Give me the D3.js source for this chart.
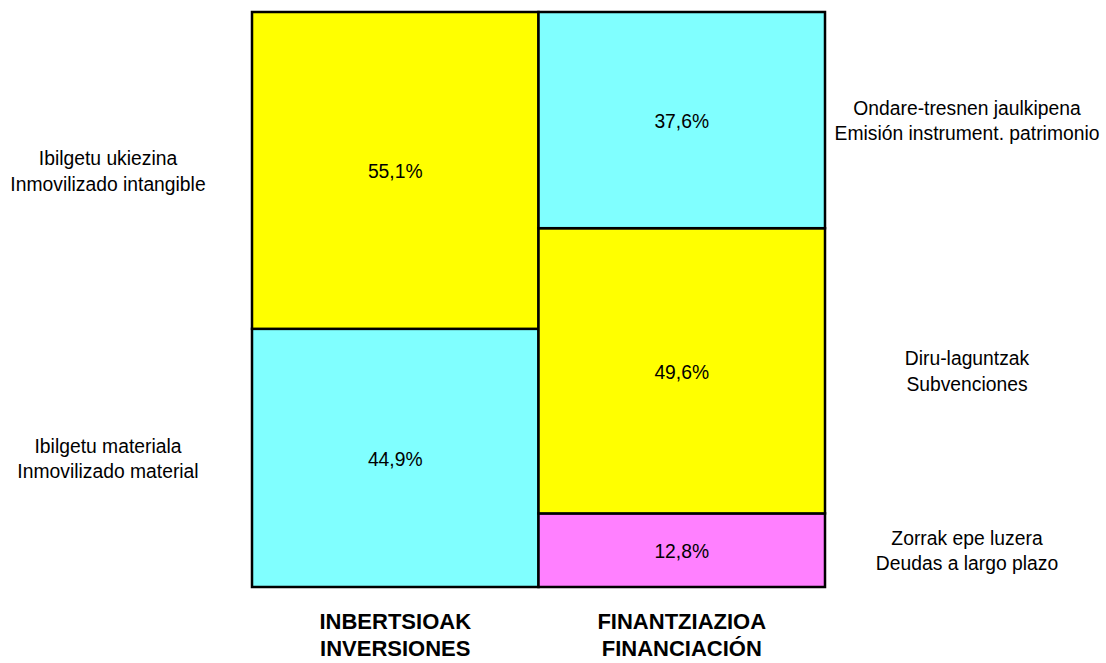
<!DOCTYPE html>
<html>
<head>
<meta charset="utf-8">
<script src="https://cdn.jsdelivr.net/npm/d3@7"></script>
<style>
  html, body { margin: 0; padding: 0; background: #fff; }
  svg { display: block; }
  text { font-family: Arial, "Liberation Sans", Helvetica, sans-serif; }
</style>
</head>
<body>
<svg id="chart" width="1106" height="663"></svg>
<script>
// ---- data ----
const categories = ["INBERTSIOAK|INVERSIONES", "FINANTZIAZIOA|FINANCIACIÓN"];
// segments listed bottom to top for each column
const inversionesLabels = ["Ibilgetu materiala|Inmovilizado material", "Ibilgetu ukiezina|Inmovilizado intangible"];
const inversionesValues = [44.9, 55.1];
const financiacionLabels = ["Zorrak epe luzera|Deudas a largo plazo", "Diru-laguntzak|Subvenciones", "Ondare-tresnen jaulkipena|Emisión instrument. patrimonio"];
const financiacionValues = [12.8, 49.6, 37.6];
const inversionesColors = ["#80FFFF", "#FFFF00"];
const financiacionColors = ["#FF80FF", "#FFFF00", "#80FFFF"];

// ---- build ----
const columns = [
  { cat: categories[0], labels: inversionesLabels, values: inversionesValues, colors: inversionesColors, side: "left" },
  { cat: categories[1], labels: financiacionLabels, values: financiacionValues, colors: financiacionColors, side: "right" }
];

const svg = d3.select("#chart");
const x = d3.scaleBand().domain(categories).range([252, 825]).padding(0);
const y = d3.scaleLinear().domain([0, 100]).range([587, 12]);

const fmt = v => d3.format(".1f")(v).replace(".", ",") + "%";
const SX = 0.92;

columns.forEach(col => {
  let cum = 0;
  col.segs = [];
  col.values.forEach((v, i) => {
    const y0 = cum, y1 = cum + v;
    cum = y1;
    col.segs.push({ y0, y1, v, label: col.labels[i], color: col.colors[i] });
  });
});

const g = svg.append("g");

columns.forEach(col => {
  const x0 = x(col.cat), w = x.bandwidth();
  col.segs.forEach(s => {
    g.append("rect")
      .attr("x", x0)
      .attr("y", y(s.y1))
      .attr("width", w)
      .attr("height", y(s.y0) - y(s.y1))
      .attr("fill", s.color)
      .attr("stroke", "#000")
      .attr("stroke-width", 2.5);
    const cy = (y(s.y0) + y(s.y1)) / 2;
    g.append("text")
      .attr("transform", `translate(${x0 + w / 2},${cy + 0.5}) scale(${SX},1)`)
      .attr("dy", "0.35em")
      .attr("text-anchor", "middle")
      .attr("font-size", 21)
      .attr("fill", "#000")
      .text(fmt(s.v));
    // side label
    const lx = col.side === "left" ? 108 : 967;
    const lines = s.label.split("|");
    const t = g.append("text")
      .attr("transform", `translate(${lx},${cy}) scale(${SX},1)`)
      .attr("text-anchor", "middle")
      .attr("font-size", 21)
      .attr("fill", "#000");
    lines.forEach((ln, k) => {
      t.append("tspan")
        .attr("x", 0)
        .attr("y", (k - (lines.length - 1) / 2) * 25.5)
        .attr("dy", "0.35em")
        .text(ln);
    });
  });
  // category label
  const lines = col.cat.split("|");
  const t = g.append("text")
    .attr("text-anchor", "middle")
    .attr("font-size", 22)
    .attr("font-weight", "bold")
    .attr("fill", "#000");
  lines.forEach((ln, k) => {
    t.append("tspan")
      .attr("x", x0 + w / 2)
      .attr("y", 621 + k * 27)
      .attr("dy", "0.35em")
      .text(ln);
  });
});
</script>
</body>
</html>
